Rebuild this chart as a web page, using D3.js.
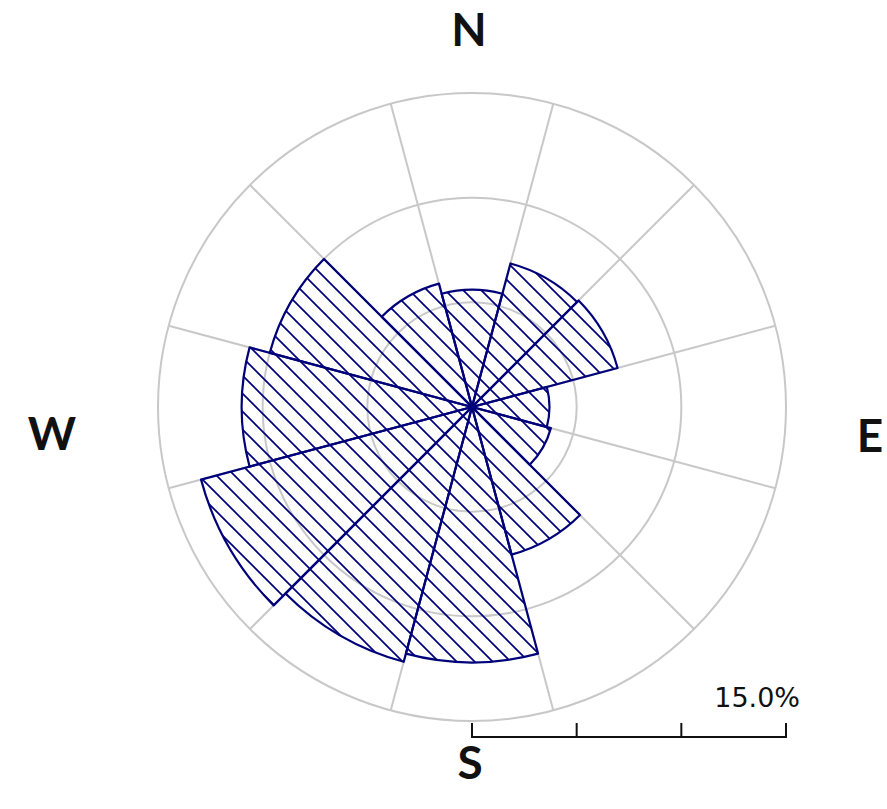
<!DOCTYPE html>
<html>
<head>
<meta charset="utf-8">
<script src="https://cdn.jsdelivr.net/npm/d3@7"></script>
<style>
  body { margin: 0; background: #fff; }
  svg { display: block; }
</style>
</head>
<body>
<div id="rose"></div>
<script>
// wind direction (degrees, sector centre) and frequency (%)
const directions = [0, 30, 60, 90, 120, 150, 180, 210, 240, 270, 300, 330];
const frequency = [5.6, 7.1, 7.2, 3.7, 3.9, 7.3, 12.2, 12.6, 13.4, 11.0, 10.0, 6.1];
const ringTicks = [5, 10, 15];
const scaleTicks = [0, 5, 10, 15];
const compass = [
    {label: "N", x: 469, y: 46},
    {label: "W", x: 52, y: 450},
    {label: "E", x: 870, y: 452},
    {label: "S", x: 470, y: 779}
];

const width = 887, height = 809;
const cx = 472, cy = 407;
const sectorWidth = 30;

const svg = d3.select("#rose")
    .append("svg")
    .attr("width", width)
    .attr("height", height);

const r = d3.scaleLinear()
    .domain([0, d3.max(ringTicks)])
    .range([0, 314]);

// hatch pattern
svg.append("defs")
    .append("pattern")
    .attr("id", "hatch")
    .attr("patternUnits", "userSpaceOnUse")
    .attr("width", 18)
    .attr("height", 18)
    .append("path")
    .attr("d", "M-4.5,-4.5 L22.5,22.5 M-4.5,13.5 L4.5,22.5 M13.5,-4.5 L22.5,4.5")
    .attr("stroke", "#00007a")
    .attr("stroke-width", 1.7);

const g = svg.append("g")
    .attr("transform", `translate(${cx},${cy})`);

// grid rings
g.selectAll(".ring")
    .data(ringTicks)
    .enter()
    .append("circle")
    .attr("r", d => r(d))
    .attr("fill", "none")
    .attr("stroke", "#c8c8c8")
    .attr("stroke-width", 2);

// grid spokes on sector borders
g.selectAll(".spoke")
    .data(directions)
    .enter()
    .append("line")
    .attr("x1", 0)
    .attr("y1", 0)
    .attr("x2", d => r(15) * Math.sin((d + sectorWidth / 2) * Math.PI / 180))
    .attr("y2", d => -r(15) * Math.cos((d + sectorWidth / 2) * Math.PI / 180))
    .attr("stroke", "#c8c8c8")
    .attr("stroke-width", 2);

const arc = d3.arc()
    .innerRadius(0)
    .outerRadius(d => r(d.value))
    .startAngle(d => (d.dir - sectorWidth / 2) * Math.PI / 180)
    .endAngle(d => (d.dir + sectorWidth / 2) * Math.PI / 180);

const sectors = directions.map((d, i) => ({dir: d, value: frequency[i]}));

g.selectAll(".sector")
    .data(sectors)
    .enter()
    .append("path")
    .attr("d", arc)
    .attr("fill", "url(#hatch)")
    .attr("stroke", "#00007a")
    .attr("stroke-width", 2.2)
    .attr("stroke-linejoin", "round");

// compass labels
svg.selectAll(".compass")
    .data(compass)
    .enter()
    .append("text")
    .attr("x", d => d.x)
    .attr("y", d => d.y)
    .attr("text-anchor", "middle")
    .style("font-family", "Lato, sans-serif")
    .style("font-weight", "bold")
    .style("font-size", "46px")
    .attr("fill", "#111")
    .text(d => d.label);

// scale bar
const barY = 737;
const bar = svg.append("g");
bar.append("line")
    .attr("x1", cx + r(0))
    .attr("x2", cx + r(d3.max(scaleTicks)))
    .attr("y1", barY)
    .attr("y2", barY)
    .attr("stroke", "#111")
    .attr("stroke-width", 2);
bar.selectAll(".tick")
    .data(scaleTicks)
    .enter()
    .append("line")
    .attr("x1", d => cx + r(d))
    .attr("x2", d => cx + r(d))
    .attr("y1", barY + 1)
    .attr("y2", barY - 14)
    .attr("stroke", "#111")
    .attr("stroke-width", 2);
bar.append("text")
    .attr("x", cx + r(15) + 14)
    .attr("y", 707)
    .attr("text-anchor", "end")
    .style("font-family", "'DejaVu Sans', sans-serif")
    .style("font-size", "27px")
    .attr("fill", "#111")
    .text(d3.max(scaleTicks).toFixed(1) + "%");
</script>
</body>
</html>
